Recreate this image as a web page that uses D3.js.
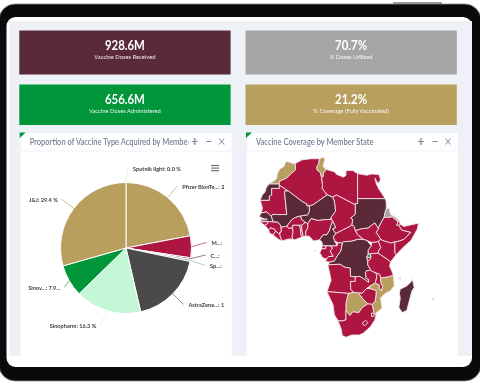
<!DOCTYPE html>
<html lang="en">

<head>
    <meta charset="UTF-8">
    <title>Vaccine dashboard</title>
    <script src="https://cdn.jsdelivr.net/npm/d3@7"></script>
    <style>
        html, body { margin: 0; padding: 0; background: #fff; overflow: hidden; }
        /* the source screenshot is soft, a small blur gets closer to it */
        svg { display: block; font-family: Lato, sans-serif; filter: blur(0.35px); }
    </style>
</head>

<body>
    <script>
        // KPI cards
        const kpiValues = ["928.6M", "70.7%", "656.6M", "21.2%"];
        const kpiLabels = ["Vaccine Doses Received", "% Doses Utilized", "Vaccine Doses Administered", "% Coverage (Fully Vaccinated)"];

        // Pie
        const vaccineNames = ["Sputnik light", "Pfizer BionTech", "Moderna", "Covaxin", "Sputnik V", "AstraZeneca", "Sinopharm", "Sinovac", "J&J"];
        const vaccineShares = [0.0, 22.0, 5.4, 0.4, 0.5, 18.1, 16.3, 7.9, 29.4];
        const vaccineLabels = ["Sputnik light: 0.0 %", "Pfizer BionTe...: 2", "M...:", "C...:", "Sp...:", "AstraZene...: 1", "Sinopharm: 16.3 %", "Sinov...: 7.9...", "J&J: 29.4 %"];

        // Map classes, everything not listed is in the main crimson class
        const goldStates = ["Morocco", "Tunisia", "Botswana", "Mozambique"];
        const maroonStates = ["Western Sahara", "Mali", "Niger", "Senegal", "Cameroon", "DRC", "Sudan", "Madagascar"];
        const greyStates = ["Eritrea"];
        const greenStates = ["Rwanda"];

        // Rough borders in lon/lat
        const borders = [
            ["Morocco", [[-5.9, 35.8], [-5.3, 35.9], [-2.2, 35.1], [-1.7, 34.9], [-1.8, 32.9], [-3.6, 31.6], [-5.5, 30], [-8.7, 28.7], [-8.7, 27.7], [-13.2, 27.7], [-12.9, 28], [-11.1, 28.8], [-9.8, 29.8], [-9.6, 31.5], [-8.5, 33.3], [-6.8, 34.1]]],
            ["Western Sahara", [[-13.2, 27.7], [-8.7, 27.7], [-8.7, 26], [-12, 26], [-12, 23.4], [-13, 23], [-13, 21.3], [-17, 21.3], [-16, 23.5], [-14.9, 24.5], [-14.4, 26.2]]],
            ["Mauritania", [[-17, 21.3], [-13, 21.3], [-13, 23], [-12, 23.4], [-12, 26], [-8.7, 26], [-8.7, 27.3], [-4.8, 25], [-6.5, 25], [-5.5, 15.5], [-9.3, 15.5], [-11.5, 15.6], [-12.2, 14.8], [-14.2, 16.6], [-16.5, 16.2], [-16, 18], [-16.3, 19.5]]],
            ["Algeria", [[-8.7, 27.3], [-8.7, 28.7], [-5.5, 30], [-3.6, 31.6], [-1.8, 32.9], [-1.7, 34.9], [-2.2, 35.1], [1, 36.5], [5, 36.9], [8.6, 36.9], [8.3, 35.2], [7.5, 34], [7.5, 33], [9, 32], [9.5, 30.2], [9.9, 27.5], [9.8, 26], [11.9, 23.5], [5.8, 19.5], [4.2, 19.1], [3.2, 19], [3.1, 19.9], [1.2, 20.8], [-4.8, 25]]],
            ["Tunisia", [[8.6, 36.9], [9.9, 37.3], [11, 37], [10.6, 35.8], [10.1, 34.3], [11.1, 33.3], [11.5, 33.1], [10.3, 31.7], [10.2, 30.5], [9.5, 30.2], [9, 32], [7.5, 33], [7.5, 34], [8.3, 35.2]]],
            ["Libya", [[11.5, 33.1], [15, 32.3], [16, 31.3], [19, 30.3], [20, 31], [20, 32.7], [23, 32.7], [25, 31.6], [25, 22], [25, 20], [24, 20], [24, 19.5], [16, 23.4], [14.2, 22.6], [11.9, 23.5], [9.8, 26], [9.9, 27.5], [9.5, 30.2], [10.2, 30.5], [10.3, 31.7]]],
            ["Egypt", [[25, 31.6], [29, 31], [31, 31.5], [34.2, 31.3], [34.9, 29.5], [34.2, 28], [33.3, 28.5], [32.5, 30], [33, 28], [34, 26], [35.5, 24], [36.9, 22], [25, 22]]],
            ["Sudan", [[25, 22], [36.9, 22], [37.3, 21], [37.4, 18.8], [37.4, 18], [36.9, 16.5], [36.4, 14.3], [34.3, 10.6], [34, 9.5], [33.2, 10.8], [32.4, 12], [29.5, 9.8], [27, 9.6], [24, 8.7], [23.5, 10.5], [22.5, 11.2], [22.9, 13.5], [22, 14], [24, 15.7], [24, 19.5], [24, 20], [25, 20]]],
            ["Eritrea", [[37.4, 18], [38.6, 18], [39.2, 15.5], [41.2, 14.6], [43.1, 12.7], [42.4, 12.5], [40, 14.5], [37.5, 14.3], [36.4, 14.3], [36.9, 16.5]]],
            ["Djibouti", [[43.1, 12.7], [43.3, 11.5], [42.8, 11], [41.8, 11], [42.4, 12.5]]],
            ["Ethiopia", [[36.4, 14.3], [37.5, 14.3], [40, 14.5], [42.4, 12.5], [41.8, 11], [42.8, 11], [44, 9], [48, 8], [45, 5], [42, 4], [41, 3.9], [39.5, 3.4], [36, 4.4], [35, 5], [33, 8], [34, 9.5], [34.3, 10.6]]],
            ["Somalia", [[42.8, 11], [43.3, 11.5], [45, 10.5], [48, 11.2], [51.2, 11.9], [50.8, 9.5], [48, 4.5], [45, 1.9], [41.6, -1.6], [41, -0.8], [41, 3.9], [42, 4], [45, 5], [48, 8], [44, 9]]],
            ["South Sudan", [[24, 8.7], [27, 9.6], [29.5, 9.8], [32.4, 12], [33.2, 10.8], [34, 9.5], [33, 8], [35, 5], [34, 4.2], [33, 3.8], [31, 3.7], [29, 4.5], [27.5, 5], [25, 7]]],
            ["CAR", [[14.5, 6], [15.5, 7.5], [18.5, 9], [21.7, 10.6], [22.5, 11.2], [23.5, 10.5], [24, 8.7], [25, 7], [27.5, 5], [25, 5], [22.5, 4.2], [19, 4], [18.5, 3.5], [16.5, 3.5], [15, 4.5]]],
            ["Chad", [[16, 23.4], [24, 19.5], [24, 15.7], [22, 14], [22.9, 13.5], [22.5, 11.2], [21.7, 10.6], [18.5, 9], [15.5, 7.5], [14.2, 9.5], [15.5, 10], [14.5, 12.5], [14, 13], [13.5, 14.3], [15.5, 16.9], [15, 21], [14.2, 22.6]]],
            ["Niger", [[11.9, 23.5], [14.2, 22.6], [15, 21], [15.5, 16.9], [13.5, 14.3], [13.6, 13.5], [11, 13.4], [8, 13], [5, 13.8], [3.6, 11.7], [2.5, 12.2], [1, 13.3], [0.3, 14.9], [3.5, 15.4], [4.2, 16.8], [4.2, 19.1], [5.8, 19.5]]],
            ["Mali", [[-4.8, 25], [1.2, 20.8], [3.1, 19.9], [3.2, 19], [4.2, 19.1], [4.2, 16.8], [3.5, 15.4], [0.3, 14.9], [-2, 14.2], [-3.4, 13.3], [-4.3, 12.1], [-5.5, 10.6], [-7, 10.3], [-8, 10.2], [-8.3, 11.2], [-9.5, 12.3], [-11.4, 12.4], [-12.2, 14.8], [-11.5, 15.6], [-9.3, 15.5], [-5.5, 15.5], [-6.5, 25]]],
            ["Burkina Faso", [[-5.5, 10.6], [-4.3, 12.1], [-3.4, 13.3], [-2, 14.2], [0.3, 14.9], [1, 13.3], [2.5, 12.2], [0.9, 11], [-2.9, 11], [-3, 9.9], [-4.7, 9.7]]],
            ["Senegal", [[-17.4, 14.7], [-16.5, 16.2], [-14.2, 16.6], [-12.2, 14.8], [-11.4, 12.4], [-13.7, 12.6], [-16.7, 12.4], [-16.8, 13.4], [-15, 13.5]]],
            ["Gambia", [[-16.8, 13.6], [-14, 13.7], [-14, 13.3], [-16.8, 13.2]]],
            ["Guinea-Bissau", [[-16.7, 12.4], [-13.7, 12.6], [-13.7, 11.7], [-15, 11], [-16.5, 12]]],
            ["Guinea", [[-13.7, 12.6], [-11.4, 12.4], [-9.5, 12.3], [-8.3, 11.2], [-8, 10.2], [-7.8, 8.5], [-9, 7.5], [-10.3, 8.5], [-10.7, 9.3], [-12.4, 9.9], [-13.3, 9.1], [-15, 11], [-13.7, 11.7]]],
            ["Sierra Leone", [[-13.3, 9.1], [-12.4, 9.9], [-10.7, 9.3], [-10.3, 8.5], [-11.4, 6.9], [-13, 7.8]]],
            ["Liberia", [[-11.4, 6.9], [-10.3, 8.5], [-9, 7.5], [-8.5, 7.5], [-8.3, 6.2], [-7.5, 4.4], [-9, 5]]],
            ["Ivory Coast", [[-8.3, 6.2], [-8.5, 7.5], [-7.8, 8.5], [-8, 10.2], [-7, 10.3], [-5.5, 10.6], [-4.7, 9.7], [-3, 9.9], [-2.8, 8], [-3.2, 6.2], [-2.9, 5.1], [-4.5, 5.2], [-7.5, 4.4]]],
            ["Ghana", [[-3, 9.9], [-2.9, 11], [0, 11], [0.3, 10], [0.6, 7], [1.2, 6.1], [-2, 4.8], [-2.9, 5.1], [-3.2, 6.2], [-2.8, 8]]],
            ["Togo", [[0, 11], [0.9, 11], [1, 9], [1.6, 6.2], [1.2, 6.1], [0.6, 7], [0.3, 10]]],
            ["Benin", [[0.9, 11], [2.5, 12.2], [3.6, 11.7], [3.6, 10], [2.7, 8.5], [2.7, 6.4], [1.6, 6.2], [1, 9]]],
            ["Nigeria", [[2.7, 6.4], [2.7, 8.5], [3.6, 10], [3.6, 11.7], [5, 13.8], [8, 13], [11, 13.4], [13.6, 13.5], [14.2, 12.5], [13.5, 10.8], [12.8, 8.6], [11.8, 7], [10.2, 6.9], [8.6, 4.8], [6, 4.3], [5, 5.5], [4, 6.4]]],
            ["Cameroon", [[8.6, 4.8], [10.2, 6.9], [11.8, 7], [12.8, 8.6], [13.5, 10.8], [14.2, 12.5], [14.5, 12.5], [15.5, 10], [14.2, 9.5], [15.5, 7.5], [14.5, 6], [15, 4.5], [16.2, 2.2], [13, 2.2], [9.8, 2.3], [9.7, 3.8]]],
            ["Equatorial Guinea", [[9.8, 2.3], [11.3, 2.2], [11.3, 1], [9.6, 1]]],
            ["Gabon", [[9.6, 1], [11.3, 1], [11.3, 2.2], [13, 2.2], [14.3, 1.3], [13.2, 0], [14.5, -2.3], [12.5, -2.4], [11.6, -3.4], [10, -3], [8.7, -0.7]]],
            ["Congo", [[13, 2.2], [16.2, 2.2], [16.5, 3.5], [18.5, 3.5], [17.8, 0], [16.2, -2.2], [15, -4.3], [13, -4.8], [11.2, -4.5], [11.6, -3.4], [12.5, -2.4], [14.5, -2.3], [13.2, 0], [14.3, 1.3]]],
            ["DRC", [[18.5, 3.5], [19, 4], [22.5, 4.2], [25, 5], [27.5, 5], [29, 4.5], [31, 2.2], [29.6, 0.5], [29.6, -1.4], [29, -2.7], [29.4, -4.4], [29.4, -6], [30.7, -8.2], [28.9, -8.5], [28.4, -9.2], [28.7, -11.7], [29.8, -12.2], [29.8, -13.4], [28.4, -12.4], [27.2, -11.6], [25.9, -10.9], [24, -11], [22, -10.9], [21.8, -7.3], [19.5, -7], [17.5, -5.7], [13, -5.9], [12.2, -6], [13, -4.8], [15, -4.3], [16.2, -2.2], [17.8, 0]]],
            ["Rwanda", [[29, -2.7], [29.6, -1.4], [30.5, -1.1], [30.8, -2.4], [30, -2.8]]],
            ["Burundi", [[29, -2.7], [30, -2.8], [30.8, -2.4], [30.5, -3.5], [29.4, -4.4]]],
            ["Uganda", [[29.6, 0.5], [31, 2.2], [31, 3.7], [33, 3.8], [34, 4.2], [35, 1.5], [34, 0], [33.9, -1], [30.5, -1.1], [29.6, -1.4]]],
            ["Kenya", [[34, 4.2], [35, 5], [36, 4.4], [39.5, 3.4], [41, 3.9], [41, -0.8], [41.6, -1.6], [39.2, -4.7], [37.7, -3.5], [33.9, -1], [34, 0], [35, 1.5]]],
            ["Tanzania", [[30.5, -1.1], [33.9, -1], [37.7, -3.5], [39.2, -4.7], [38.8, -6.5], [39.5, -8], [40.4, -10.4], [38, -11.2], [34.9, -11.5], [34.5, -10], [33, -9.5], [31, -8.6], [30.7, -8.2], [29.4, -6], [29.4, -4.4], [30.5, -3.5], [30.8, -2.4]]],
            ["Angola", [[12.2, -6], [13, -5.9], [17.5, -5.7], [19.5, -7], [21.8, -7.3], [22, -10.9], [24, -11], [24, -13], [22, -13], [22, -16.2], [23.4, -17.6], [21, -18], [19, -17.8], [14, -17.4], [11.8, -17.3], [13.6, -12.5], [12.9, -9]]],
            ["Zambia", [[22, -13], [24, -13], [24, -11], [25.9, -10.9], [27.2, -11.6], [28.4, -12.4], [29.8, -13.4], [29.8, -12.2], [28.7, -11.7], [28.4, -9.2], [28.9, -8.5], [30.7, -8.2], [31, -8.6], [33, -9.5], [33.3, -11], [32.7, -13.6], [30.2, -15], [28.8, -16], [27, -17.9], [25.3, -17.8], [23.4, -17.6], [22, -16.2]]],
            ["Malawi", [[33, -9.5], [34.5, -10], [34.9, -11.5], [35, -13.5], [35.8, -15], [35.3, -17], [34.3, -15.9], [34.4, -14.5], [33.2, -14], [32.7, -13.6], [33.3, -11]]],
            ["Mozambique", [[34.9, -11.5], [38, -11.2], [40.4, -10.4], [40.8, -14.8], [39, -17], [36.8, -18], [34.9, -19.8], [35.5, -23.9], [32.9, -25.9], [32.9, -26.8], [32, -25.7], [31.3, -22.4], [32.5, -21.2], [32.9, -19], [33, -16.8], [30.4, -16], [30.2, -15], [32.7, -13.6], [33.2, -14], [34.4, -14.5], [34.3, -15.9], [35.3, -17], [35.8, -15], [35, -13.5]]],
            ["Zimbabwe", [[25.3, -17.8], [27, -17.9], [28.8, -16], [30.4, -16], [33, -16.8], [32.9, -19], [32.5, -21.2], [31.3, -22.4], [29.4, -22.2], [27.5, -20.5], [26, -18.6]]],
            ["Botswana", [[20, -22], [21, -18], [23.4, -17.6], [25.3, -17.8], [26, -18.6], [27.5, -20.5], [29.4, -22.2], [27, -23.7], [25.5, -25.7], [23, -25.3], [21.7, -26.8], [20, -24.8]]],
            ["Namibia", [[11.8, -17.3], [14, -17.4], [19, -17.8], [21, -18], [20, -22], [20, -24.8], [20, -28.4], [18.2, -28.9], [16.5, -28.6], [15, -26.5], [14.4, -22.5]]],
            ["South Africa", [[16.5, -28.6], [18.2, -28.9], [20, -28.4], [20, -24.8], [21.7, -26.8], [23, -25.3], [25.5, -25.7], [27, -23.7], [29.4, -22.2], [31.3, -22.4], [32, -25.7], [32.9, -26.8], [32.4, -28.5], [30.5, -31], [27.5, -33.3], [25.7, -34], [22.5, -34], [20, -34.8], [18.4, -34.2], [18, -32]]],
            ["Lesotho", [[27, -29.6], [28.5, -28.6], [29.4, -29.5], [28.2, -30.6], [27.4, -30.3]]],
            ["Eswatini", [[31, -25.8], [32, -25.9], [32.1, -27], [31, -27.2]]],
            ["Madagascar", [[48.6, -12], [49.4, -15.5], [48.4, -17], [46.2, -24.8], [44.2, -25.6], [42.8, -23.6], [43.4, -20], [43, -17.8], [43.4, -16.2], [46, -15], [47.9, -13.3]]],
            ["Comoros", [[43.2, -11.4], [43.6, -11.4], [43.6, -12], [43.2, -12]]],
            ["Mauritius", [[57.3, -20], [57.8, -20], [57.8, -20.5], [57.3, -20.5]]],
            ["Sao Tome", [[6.4, 0.4], [6.8, 0.4], [6.8, 0], [6.4, 0]]]
        ];

        const width = 480, height = 384;
        const crimson = "#ad1640", maroon = "#5a2a38", gold = "#b89f5e", green = "#009639", grey = "#a5a5a5", mint = "#c3f7d6", charcoal = "#4a4a4a";
        const kpiColors = [maroon, grey, green, gold];
        const vaccineColors = [mint, gold, crimson, maroon, grey, charcoal, mint, green, gold];

        const svg = d3.select("body").append("svg").attr("width", width).attr("height", height);

        // Tablet frame
        svg.append("rect").attr("x", 393).attr("y", 2).attr("width", 49).attr("height", 4).attr("rx", 1).attr("fill", "#9a9a9a");
        svg.append("rect").attr("x", -1).attr("y", 4).attr("width", 482).attr("height", 377).attr("rx", 16)
            .attr("fill", "#0a0a0a").attr("stroke", "#8a8a8a").attr("stroke-width", 0.8);
        svg.append("rect").attr("x", 6.5).attr("y", 17).attr("width", 465.5).attr("height", 350).attr("rx", 9).attr("fill", "#fff");
        svg.append("rect").attr("x", 9).attr("y", 21).attr("width", 463).attr("height", 335).attr("fill", "#eef2f6");

        // KPI cards
        const cardX = d3.scaleOrdinal().domain([0, 1]).range([19.3, 245.5]);
        const cardY = d3.scaleOrdinal().domain([0, 1]).range([30.5, 84.5]);
        const cardHeights = [44, 40.5];
        const cardValueY = [19.5, 19];

        kpiValues.forEach((v, i) => {
            const col = i % 2, row = Math.floor(i / 2);
            const g = svg.append("g").attr("transform", `translate(${cardX(col)},${cardY(row)})`);
            g.append("rect").attr("width", 211.3).attr("height", cardHeights[row]).attr("fill", kpiColors[i]);
            // the card font is narrower than Lato, so squeeze it a bit
            g.append("text").attr("transform", `translate(105.6,${cardValueY[row]}) scale(0.88,1)`).attr("text-anchor", "middle")
                .attr("fill", "#fff").attr("font-size", 13).attr("font-weight", 700).text(v);
            g.append("text").attr("x", 105.6).attr("y", cardValueY[row] + 9).attr("text-anchor", "middle")
                .attr("fill", "#fff").attr("fill-opacity", 0.9).attr("font-size", 5.8).text(kpiLabels[i]);
        });

        // Panels with header, green corner and the three small icons
        function addPanel(x, title) {
            const g = svg.append("g").attr("transform", `translate(${x},133)`);
            g.append("rect").attr("width", 211).attr("height", 223).attr("fill", "#fff");
            g.append("line").attr("x1", 0).attr("x2", 211).attr("y1", 18).attr("y2", 18).attr("stroke", "#f0f2f5");
            g.append("path").attr("d", "M-1,-0.5H5L-1,5Z").attr("fill", green);
            const clipId = "clip" + Math.round(x);
            g.append("clipPath").attr("id", clipId).append("rect").attr("width", 167.5).attr("height", 18);
            g.append("g").attr("clip-path", `url(#${clipId})`).append("text")
                .attr("transform", "translate(9,11.5) scale(0.84,1)")
                .attr("fill", "#6b7690").attr("font-size", 9).attr("font-weight", 500).text(title);
            const icons = g.append("g").attr("stroke", "#7d879c").attr("fill", "none").attr("stroke-width", 1);
            icons.append("path").attr("d", "M171,8.5h6M174,5.5v6M172.8,6.5l1.2,-1.2l1.2,1.2M172.8,10.5l1.2,1.2l1.2,-1.2");
            icons.append("path").attr("d", "M185.5,8.5h5");
            icons.append("path").attr("d", "M198.5,5.5l5,6M203.5,5.5l-5,6");
            return g;
        }
        addPanel(20.7, "Proportion of Vaccine Type Acquired by Member State");
        addPanel(247, "Vaccine Coverage by Member State");

        // Pie
        const pieR = 65.5, cx = 126, cy = 248;
        const pie = d3.pie().sort(null).value(d => d)(vaccineShares);
        const arc = d3.arc().innerRadius(0).outerRadius(pieR);
        const pieG = svg.append("g").attr("transform", `translate(${cx},${cy})`);

        pieG.selectAll("path.slice").data(pie).enter().append("path")
            .attr("class", "slice")
            .attr("d", arc)
            .attr("fill", (d, i) => vaccineColors[i])
            .attr("stroke", "#fff").attr("stroke-width", 1);

        // highcharts moves a few labels around so they do not collide
        const labelShift = { 0: [2, 0], 2: [0, -4], 3: [0, -6], 4: [0, 2], 6: [-3, 0], 7: [8, -1] };

        const labelG = svg.append("g").attr("transform", `translate(${cx},${cy})`);
        svg.append("clipPath").attr("id", "pieClip").append("rect").attr("x", -102).attr("y", -120).attr("width", 200).attr("height", 240);
        labelG.attr("clip-path", "url(#pieClip)");

        pie.forEach((d, i) => {
            const mid = (d.startAngle + d.endAngle) / 2;
            const [sx, sy] = labelShift[i] || [0, 0];
            const [x0, y0] = d3.pointRadial(mid, pieR);
            let [x1, y1] = d3.pointRadial(mid, pieR + 15);
            x1 += sx; y1 += sy;
            const right = Math.sin(mid) >= 0;
            labelG.append("path")
                .attr("d", `M${x0},${y0}L${x1},${y1}`)
                .attr("fill", "none").attr("stroke", vaccineColors[i]).attr("stroke-opacity", 0.7).attr("stroke-width", 0.9);
            labelG.append("text")
                .attr("x", x1 + (right ? 5 : -4))
                .attr("y", y1 + 3)
                .attr("text-anchor", right ? "start" : "end")
                .attr("fill", "#3d3d3d").attr("font-size", 5.6).attr("font-weight", 700)
                .text(vaccineLabels[i]);
        });

        // hamburger
        svg.append("g").attr("stroke", "#666").attr("stroke-width", 1.1).selectAll("line").data(d3.range(3)).enter().append("line")
            .attr("x1", 211).attr("x2", 219).attr("y1", i => 165.5 + i * 2.6).attr("y2", i => 165.5 + i * 2.6);

        // Map
        const features = borders.map(([name, ring]) => {
            const closed = ring.concat([ring[0]]);
            const f = { type: "Feature", properties: { name }, geometry: { type: "Polygon", coordinates: [closed] } };
            // d3.geo wants clockwise rings
            if (d3.geoArea(f) > 2 * Math.PI) closed.reverse();
            return f;
        });
        const projection = d3.geoMercator().center([17, 0]).scale(133).translate([339, 251]);
        const geoPath = d3.geoPath(projection);
        const stateColor = name => goldStates.includes(name) ? gold
            : maroonStates.includes(name) ? maroon
                : greyStates.includes(name) ? grey
                    : greenStates.includes(name) ? green : crimson;

        svg.append("g").selectAll("path").data(features).enter().append("path")
            .attr("d", geoPath)
            .attr("fill", d => stateColor(d.properties.name))
            .attr("stroke", "#efe3e6").attr("stroke-width", 0.9).attr("stroke-linejoin", "round");
    </script>
</body>

</html>
